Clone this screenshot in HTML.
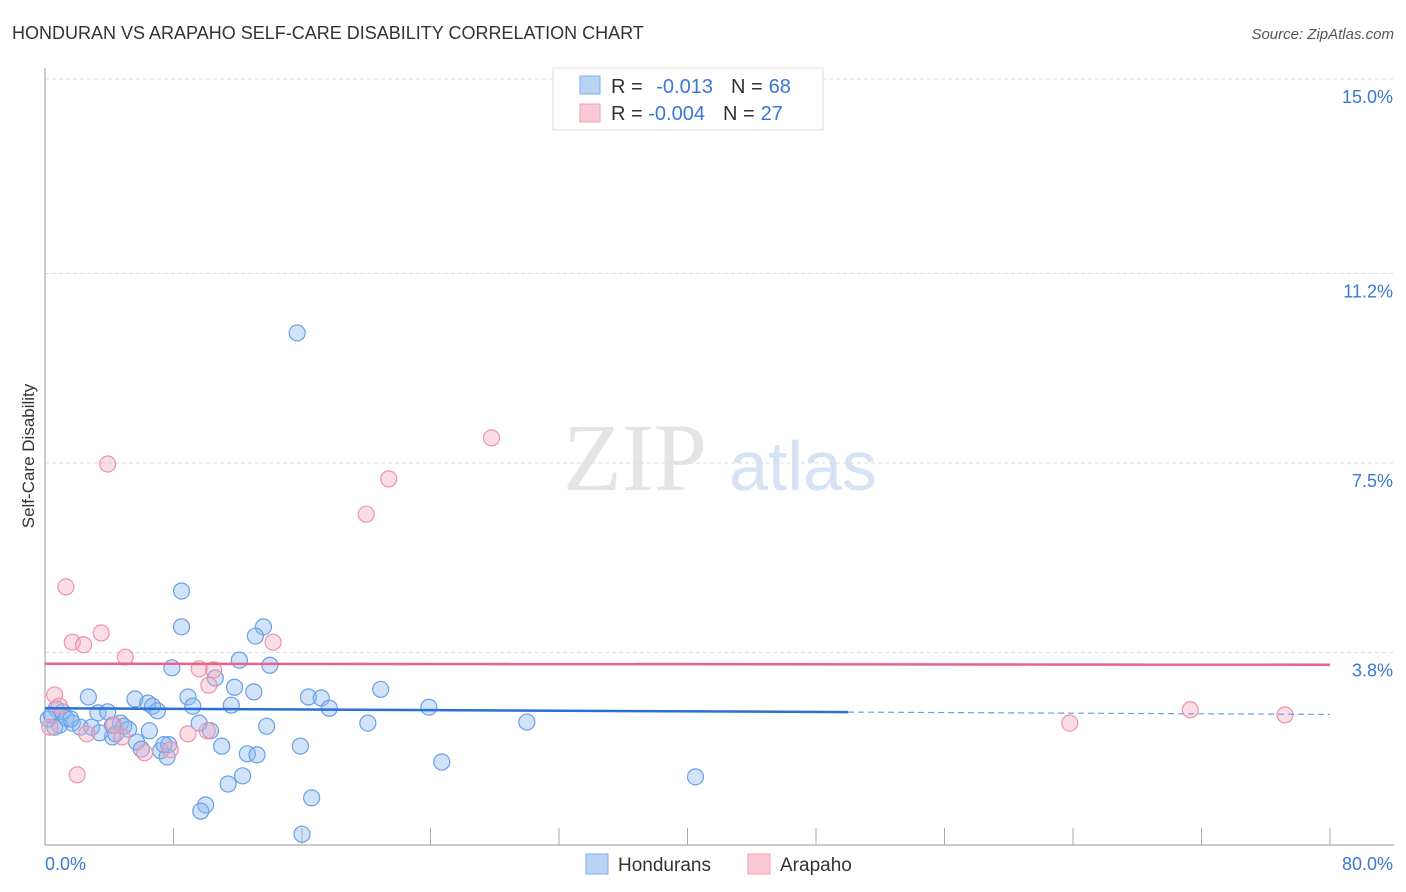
<!DOCTYPE html>
<html><head><meta charset="utf-8"><style>
body{margin:0;background:#fff;font-family:"Liberation Sans",sans-serif;}
svg{display:block}
</style></head><body>
<svg id="chart" width="1406" height="892">
<text x="12" y="39" font-size="18" fill="#333">HONDURAN VS ARAPAHO SELF-CARE DISABILITY CORRELATION CHART</text>
<text x="1394" y="39" font-size="15" fill="#555" font-style="italic" text-anchor="end">Source: ZipAtlas.com</text>
<text x="635" y="490" font-size="96" fill="#e4e4e4" font-family="Liberation Serif" text-anchor="middle">ZIP</text>
<text x="803" y="490" font-size="70" fill="#d5e3f5" text-anchor="middle">atlas</text>
<text transform="translate(34,456) rotate(-90)" font-size="17" fill="#333" text-anchor="middle">Self-Care Disability</text>
<g id="grid"></g><g id="axes"></g><g id="pts"></g><g id="trend"></g>
<g>
<rect x="553" y="68" width="270" height="62" fill="#fff" stroke="#ddd"/>
<rect x="580" y="76" width="20" height="18" fill="#b9d3f5" stroke="#7faee8"/>
<rect x="580" y="104" width="20" height="18" fill="#f9c9d6" stroke="#f0a3b8"/>
<text x="611" y="93" font-size="20" fill="#333">R = <tspan fill="#3a78d4" dx="8">-0.013</tspan><tspan dx="18" fill="#333">N =</tspan><tspan fill="#3a78d4" dx="6">68</tspan></text>
<text x="611" y="120" font-size="20" fill="#333">R = <tspan fill="#3a78d4">-0.004</tspan><tspan dx="18" fill="#333">N =</tspan><tspan fill="#3a78d4" dx="6">27</tspan></text>
</g>
<g>
<rect x="586" y="854" width="22" height="20" fill="#b9d3f5" stroke="#7faee8"/>
<text x="618" y="871" font-size="19" fill="#333">Hondurans</text>
<rect x="748" y="854" width="22" height="20" fill="#f9c9d6" stroke="#f0a3b8"/>
<text x="780" y="871" font-size="19" fill="#333">Arapaho</text>
</g>
</svg>
<script>
const yTicks=[3.8,7.5,11.2,15.0];
const yTickLabels=["3.8%","7.5%","11.2%","15.0%"];
const xLabels=["0.0%","80.0%"];
const hondX=[15.7,8.5,8.5,13.6,13.1,12.1,7.9,14.0,10.6,11.8,13.0,8.9,11.6,5.6,6.4,6.7,7.0,9.2,16.4,17.2,17.7,20.9,23.9,2.7,0.7,1.3,1.7,2.2,3.3,3.9,4.7,5.2,4.2,6.5,5.7,6.0,7.2,7.7,9.6,10.3,11.0,12.6,13.2,13.8,15.9,20.1,30.0,24.7,12.3,11.4,10.0,9.7,16.6,16.0,40.5,7.6,2.9,3.4,0.9,0.2,0.4,0.6,1.1,1.6,4.4,4.9,7.4,4.2];
const hondY=[10.04,5.00,4.30,4.30,4.12,3.65,3.50,3.55,3.30,3.12,3.03,2.93,2.77,2.89,2.81,2.75,2.66,2.75,2.93,2.91,2.71,3.08,2.73,2.93,2.70,2.52,2.42,2.34,2.62,2.64,2.42,2.30,2.15,2.27,2.05,1.91,1.88,2.00,2.42,2.27,1.97,1.82,1.80,2.36,1.97,2.42,2.44,1.66,1.39,1.23,0.82,0.70,0.96,0.25,1.37,1.76,2.34,2.23,2.38,2.50,2.58,2.34,2.64,2.50,2.21,2.36,2.00,2.38];
const arapX=[3.9,27.8,21.4,20.0,1.3,1.7,3.5,2.4,5.0,14.2,9.6,10.5,10.2,0.6,0.9,2.0,6.2,7.8,8.9,10.1,4.8,4.3,63.8,71.3,77.2,0.3,2.6];
const arapY=[7.48,7.99,7.19,6.50,5.08,4.00,4.18,3.95,3.71,4.00,3.48,3.46,3.16,2.97,2.75,1.41,1.84,1.90,2.21,2.27,2.15,2.38,2.42,2.68,2.58,2.34,2.21];
const hondTrend=[2.71,2.59];
const arapTrend=[3.58,3.56];
const hondSolidEnd=50;
const NS="http://www.w3.org/2000/svg";
const X0=45,X1=1330,Y0=847,PX=51.2;
const sx=v=>X0+(v/80)*(X1-X0);
const sy=v=>Y0-v*PX;
function mk(t,a,p){const e=document.createElementNS(NS,t);for(const k in a)e.setAttribute(k,a[k]);document.getElementById(p).appendChild(e);return e;}
yTicks.forEach((t,i)=>{
 const g=mk('line',{x1:X0,x2:1394,y1:sy(t),y2:sy(t),stroke:'#ddd','stroke-dasharray':'4 3'},'grid');
 
 
 const l=mk('text',{x:1393,y:sy(t)+24,'font-size':18,fill:'#3a78d4','text-anchor':'end'},'grid');
 l.textContent=yTickLabels[i];
 
 
});
mk('line',{x1:X0,x2:X0,y1:68,y2:845,stroke:'#999'},'axes');
mk('line',{x1:X0,x2:1394,y1:845,y2:845,stroke:'#999'},'axes');
for(let i=1;i<=10;i++){const x=X0+i*128.5;const t=mk('line',{x1:x,x2:x,y1:828,y2:845,stroke:'#aaa'},'axes');
 
 }
const xl0=mk('text',{x:45,y:870,'font-size':18,fill:'#3a78d4'},'axes');xl0.textContent=xLabels[0];


const xl1=mk('text',{x:1393,y:870,'font-size':18,fill:'#3a78d4','text-anchor':'end'},'axes');xl1.textContent=xLabels[1];


hondX.forEach((x,i)=>{const c=mk('circle',{cx:sx(x),cy:sy(hondY[i]),r:8,fill:'rgba(140,185,240,0.4)',stroke:'#6a9fe6','stroke-width':1.2},'pts');
 
 });
arapX.forEach((x,i)=>{const c=mk('circle',{cx:sx(x),cy:sy(arapY[i]),r:8,fill:'rgba(246,170,192,0.4)',stroke:'#ee92ac','stroke-width':1.2},'pts');
 
 });
const hy=x=>hondTrend[0]+(hondTrend[1]-hondTrend[0])*x/80;
const t1=mk('line',{x1:sx(0),y1:sy(hy(0)),x2:sx(hondSolidEnd),y2:sy(hy(hondSolidEnd)),stroke:'#2a6fd6','stroke-width':2.5},'trend');


const t2=mk('line',{x1:sx(hondSolidEnd),y1:sy(hy(hondSolidEnd)),x2:sx(80),y2:sy(hy(80)),stroke:'#6a9fe6','stroke-width':1.2,'stroke-dasharray':'6 4'},'trend');


const t3=mk('line',{x1:sx(0),y1:sy(arapTrend[0]),x2:sx(80),y2:sy(arapTrend[1]),stroke:'#e8628c','stroke-width':2.5},'trend');


</script>
</body></html>
